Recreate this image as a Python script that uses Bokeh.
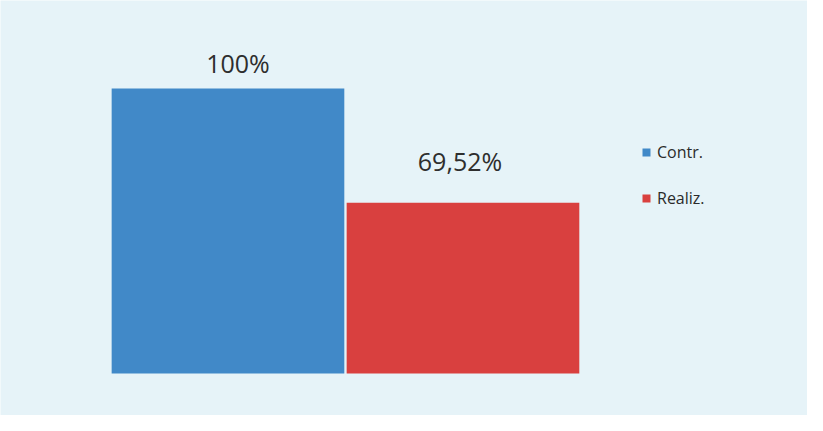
from bokeh.plotting import figure
from bokeh.models import Range1d, Legend, LegendItem, ColumnDataSource
from bokeh.core.properties import value
from bokeh.embed import file_html
from bokeh.resources import INLINE

# ---- data ----
series = ["Contr.", "Realiz."]
values = [1.0, 0.6952]
labels = ["100%", "69,52%"]
colors = ["#4189c8", "#d9403f"]
baseline = 0.24  # value axis start as drawn in the reference

W, H = 807, 415
p = figure(width=W, height=H, output_backend="svg", toolbar_location=None,
           x_range=Range1d(-0.968, 2.466), y_range=Range1d(0.128, 1.2347),
           min_border=0, min_border_left=0, min_border_right=0,
           min_border_top=0, min_border_bottom=0)
p.axis.visible = False
p.grid.visible = False
p.outline_line_color = None
p.background_fill_color = "#e6f3f8"
p.border_fill_color = "#e6f3f8"

items = []
label_offsets = [(10, -9), (-3, -25)]
for i, (s, v, lab, c) in enumerate(zip(series, values, labels, colors)):
    src = ColumnDataSource(dict(x=[i], top=[v], bottom=[baseline], t=[lab]))
    r = p.vbar(x="x", top="top", bottom="bottom", width=0.99, source=src,
               fill_color=c, line_color=None)
    p.text(x="x", y="top", text="t", source=src,
           x_offset=label_offsets[i][0], y_offset=label_offsets[i][1],
           text_align="center", text_baseline="bottom",
           text_font=value("Open Sans"), text_font_size="25px",
           text_color="#2e2e2e")
    items.append(LegendItem(label=s, renderers=[r]))

legend = Legend(items=items, location=(641, 206), orientation="vertical",
                glyph_width=10, glyph_height=10, label_height=20,
                label_standoff=6, spacing=24, padding=0, margin=0,
                border_line_color=None, background_fill_alpha=0,
                label_text_font="Open Sans", label_text_font_size="16px",
                label_text_color="#2a2a2a")
p.add_layout(legend, "center")

open("out.html", "w").write(file_html(p, INLINE))
